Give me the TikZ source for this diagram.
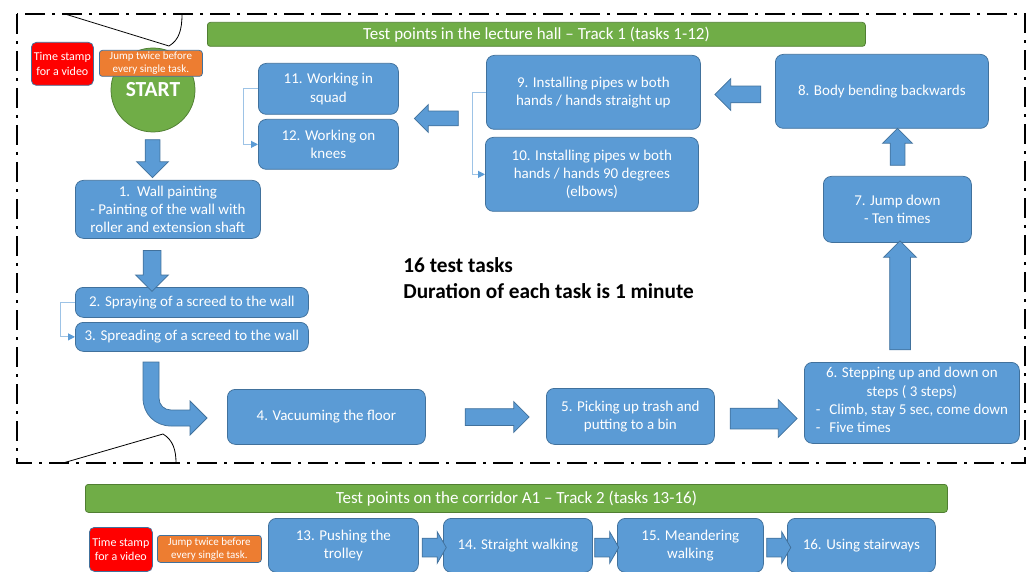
\documentclass[tikz,border=0pt]{standalone}
\usepackage{fontspec}
\setmainfont{Carlito}
\usetikzlibrary{shapes.arrows,arrows.meta}

\definecolor{boxblue}{RGB}{91,155,213}
\definecolor{boxline}{RGB}{65,113,156}
\definecolor{bargreen}{RGB}{112,173,71}
\definecolor{barline}{RGB}{80,126,50}
\definecolor{jumporange}{RGB}{237,125,49}
\definecolor{linkblue}{RGB}{157,195,230}

\tikzset{every picture/.style={line width=0.75pt}}
\tikzset{
  task/.style={draw=boxline, fill=boxblue, rounded corners=8pt, text=white, align=center,
    font=\fontsize{15}{18.3}\selectfont, inner sep=0pt, anchor=north west},
  trackbar/.style={draw=barline, fill=bargreen, rounded corners=3pt, text=white,
    font=\fontsize{17}{20}\selectfont, inner sep=0pt, anchor=north west},
  stamp/.style={draw=boxline, fill=red, rounded corners=5pt, text=white, align=center,
    font=\fontsize{12}{14.5}\selectfont, inner sep=0pt, anchor=north west},
  jump/.style={draw=boxline, fill=jumporange, rounded corners=3pt, text=white, align=center,
    font=\fontsize{11}{12.8}\selectfont, inner sep=0pt, anchor=north west},
  flowarrow/.style={single arrow, draw=boxline, fill=boxblue},
  link/.style={draw=linkblue, line width=1pt, -{Triangle[length=7pt,width=7pt,color=boxblue]}},
  frame/.style={line width=2.5pt, dash pattern=on 20pt off 7pt on 3pt off 7pt}
}

\begin{document}
\begin{tikzpicture}[x=1pt,y=1pt,yscale=-1,xscale=1]
	\useasboundingbox (0,0) rectangle (1033,572);
	
	%Shape: dash dot frame round track 1
	\draw[frame] (17,14) rectangle (1025,463);
	%Straight Lines: cut edges at the corners
	\draw[line width=0.8pt] (65,14) -- (169,46) .. controls (179,40) and (182,30) .. (182,14);
	\draw[line width=0.8pt] (63,463) -- (163,434) .. controls (173,440) and (176,450) .. (176,463);
	
	% Track 1
	\node[trackbar, minimum width=658pt, minimum height=24pt] (bar1) at (207,22) {Test points in the lecture hall – Track 1 (tasks 1-12)};
	\node[stamp, minimum width=62pt, minimum height=43pt] (stamp1) at (31,42) {Time stamp\\for a video};
	\node[circle, draw=barline, fill=bargreen, minimum size=84pt, inner sep=0pt, text=white,
	  font=\fontsize{21.5}{24}\selectfont\bfseries] (start) at (153,90) {\raisebox{-6pt}{START}};
	\node[jump, minimum width=103pt, minimum height=26pt] (jump1) at (99,50) {Jump twice before\\every single task.};
	
	\node[task, minimum width=185pt, minimum height=58pt] (t1) at (75,180) {1.\ \ Wall painting\\- Painting of the wall with\\roller and extension shaft};
	\node[task, minimum width=233pt, minimum height=30pt] (t2) at (75,287) {2. Spraying of a screed to the wall};
	\node[task, minimum width=233pt, minimum height=29pt] (t3) at (75,322) {3. Spreading of a screed to the wall};
	\node[task, minimum width=198pt, minimum height=55pt] (t4) at (227,389) {4. Vacuuming the floor};
	\node[task, minimum width=168pt, minimum height=56pt] (t5) at (546,388) {5. Picking up trash and\\putting to a bin};
	\node[task, minimum width=215pt, minimum height=81pt] (t6) at (804,362) {6. Stepping up and down on\\steps ( 3 steps)\\
	  \begin{tabular}[t]{@{}l@{\hspace{9pt}}l@{}}-&Climb, stay 5 sec, come down\\-&Five times\end{tabular}};
	\node[task, minimum width=148pt, minimum height=66pt] (t7) at (823,176) {7. Jump down\\- Ten times};
	\node[task, minimum width=213pt, minimum height=74pt] (t8) at (775,54) {8. Body bending backwards};
	\node[task, minimum width=214pt, minimum height=74pt] (t9) at (486,55) {9. Installing pipes w both\\hands / hands straight up};
	\node[task, minimum width=213pt, minimum height=74pt] (t10) at (485,137) {10. Installing pipes w both\\hands / hands 90 degrees\\(elbows)};
	\node[task, minimum width=140pt, minimum height=51pt] (t11) at (258,63) {11. Working in\\squad};
	\node[task, minimum width=140pt, minimum height=50pt] (t12) at (258,119) {12. Working on\\knees};
	
	% Text Node
	\node[anchor=north west, inner sep=0pt, align=left, font=\fontsize{21.3}{26}\selectfont\bfseries] (note) at (403,257) {16 test tasks\\Duration of each task is 1 minute};
	
	%Block arrows of track 1
	\node[flowarrow, shape border rotate=270, minimum height=38pt, inner sep=7pt, single arrow head extend=8.5pt] (a1) at (152.5,155) {};
	\node[flowarrow, shape border rotate=270, minimum height=41pt, inner sep=8.5pt, single arrow head extend=7.5pt] (a2) at (152,266.5) {};
	\draw[draw=boxline, fill=boxblue] (143,362) -- (159,362) -- (159,398) .. controls (159,405) and (164,410) .. (171,410)
	  -- (190,410) -- (190,401) -- (207,418) -- (190,435) -- (190,426) -- (171,426)
	  .. controls (155,426) and (143,414) .. (143,398) -- cycle;
	\node[flowarrow, minimum height=64pt, inner sep=8pt, single arrow head extend=7pt] (a4) at (493,417) {};
	\node[flowarrow, minimum height=67pt, inner sep=10pt, single arrow head extend=8.5pt] (a5) at (758.5,418.5) {};
	\node[flowarrow, shape border rotate=90, minimum height=109pt, inner sep=10pt, single arrow head extend=6pt] (a6) at (900,300.5) {};
	\node[flowarrow, shape border rotate=90, minimum height=37pt, inner sep=7pt, single arrow head extend=7.5pt] (a7) at (897.5,150.5) {};
	\node[flowarrow, shape border rotate=180, minimum height=46pt, inner sep=8pt, single arrow head extend=7.5pt] (a8) at (742,94.5) {};
	\node[flowarrow, shape border rotate=180, minimum height=44pt, inner sep=7pt, single arrow head extend=6.5pt] (a9) at (440,118.5) {};
	
	%Links between paired tasks
	\draw[link] (t2.west) -- ++(-15,0) |- (t3.west);
	\draw[link] (t9.west) -- ++(-14,0) |- (t10.west);
	\draw[link] (t11.west) -- ++(-15,0) |- (t12.west);
	
	% Track 2
	\node[trackbar, minimum width=862pt, minimum height=28pt] (bar2) at (85,484) {Test points on the corridor A1 – Track 2 (tasks 13-16)};
	\node[stamp, minimum width=63pt, minimum height=44pt] (stamp2) at (89,527) {Time stamp\\for a video};
	\node[jump, minimum width=104pt, minimum height=27pt] (jump2) at (157,535) {Jump twice before\\every single task.};
	\node[task, minimum width=150pt, minimum height=54pt] (t13) at (268,518) {13. Pushing the\\trolley};
	\node[task, minimum width=149pt, minimum height=54pt] (t14) at (443,518) {14. Straight walking};
	\node[task, minimum width=146pt, minimum height=54pt] (t15) at (617,518) {15. Meandering\\walking};
	\node[task, minimum width=148pt, minimum height=54pt] (t16) at (787,518) {16. Using stairways};
	\foreach \ax/\nm in {431.5/a13, 604/a14, 776/a15}
	  \node[flowarrow, single arrow tip angle=120, minimum height=21pt, inner sep=9pt, single arrow head extend=6.5pt] (\nm) at (\ax,547.5) {};
	
\end{tikzpicture}
\end{document}
